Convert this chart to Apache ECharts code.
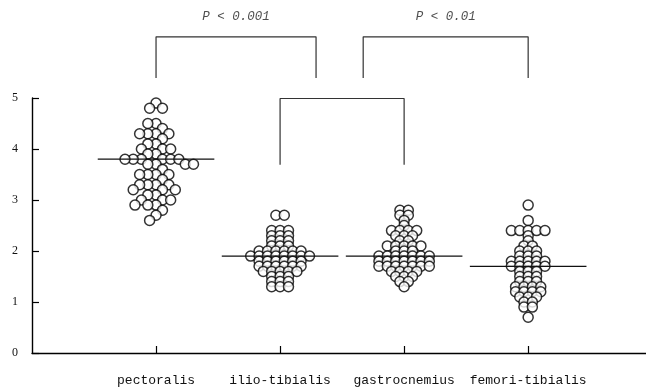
<!DOCTYPE html>
<html>
<head>
<meta charset="utf-8">
<title>Muscle dot plot</title>
<script src="https://cdn.jsdelivr.net/npm/echarts@6/dist/echarts.min.js"></script>
<style>
  html, body { margin: 0; padding: 0; background: #fff; }
  #chart { width: 646px; height: 389px; }
</style>
</head>
<body>
<div id="chart"></div>
<script>
var categories = ['pectoralis', 'ilio-tibialis', 'gastrocnemius', 'femori-tibialis'];
var yTicks = [0, 1, 2, 3, 4, 5];

// individual values, one entry per dot
var pectoralis = [4.9, 4.8, 4.8, 4.5, 4.5, 4.4, 4.3, 4.3, 4.3, 4.3, 4.2, 4.1, 4.1,
  4.0, 4.0, 4.0, 3.9, 3.9, 3.8, 3.8, 3.8, 3.8, 3.8, 3.8, 3.7, 3.7, 3.7, 3.7, 3.6,
  3.5, 3.5, 3.5, 3.5, 3.4, 3.3, 3.3, 3.3, 3.3, 3.2, 3.2, 3.2, 3.1, 3.1,
  3.0, 3.0, 3.0, 2.9, 2.9, 2.9, 2.8, 2.7, 2.6];
var ilioTibialis = [2.7, 2.7, 2.4, 2.4, 2.4, 2.3, 2.3, 2.3, 2.2, 2.2, 2.2, 2.1, 2.1, 2.1,
  2.0, 2.0, 2.0, 2.0, 2.0, 2.0, 1.9, 1.9, 1.9, 1.9, 1.9, 1.9, 1.9, 1.9,
  1.8, 1.8, 1.8, 1.8, 1.8, 1.8, 1.7, 1.7, 1.7, 1.7, 1.7, 1.7, 1.6, 1.6, 1.6, 1.6, 1.6,
  1.5, 1.5, 1.5, 1.4, 1.4, 1.4, 1.3, 1.3, 1.3];
var gastrocnemius = [2.8, 2.8, 2.7, 2.7, 2.6, 2.5, 2.4, 2.4, 2.4, 2.4, 2.3, 2.3, 2.3, 2.2, 2.2,
  2.1, 2.1, 2.1, 2.1, 2.1, 2.0, 2.0, 2.0, 1.9, 1.9, 1.9, 1.9, 1.9, 1.9, 1.9,
  1.8, 1.8, 1.8, 1.8, 1.8, 1.8, 1.8, 1.7, 1.7, 1.7, 1.7, 1.7, 1.7, 1.7,
  1.6, 1.6, 1.6, 1.6, 1.5, 1.5, 1.5, 1.4, 1.4, 1.3];
var femoriTibialis = [2.9, 2.6, 2.4, 2.4, 2.4, 2.4, 2.4, 2.3, 2.2, 2.1, 2.1, 2.0, 2.0, 2.0,
  1.9, 1.9, 1.9, 1.8, 1.8, 1.8, 1.8, 1.8, 1.7, 1.7, 1.7, 1.7, 1.7, 1.6, 1.6, 1.6,
  1.5, 1.5, 1.5, 1.4, 1.4, 1.4, 1.3, 1.3, 1.3, 1.3, 1.2, 1.2, 1.2, 1.2,
  1.1, 1.1, 1.1, 1.0, 1.0, 0.9, 0.9, 0.7];
var groups = [pectoralis, ilioTibialis, gastrocnemius, femoriTibialis];
var medians = [3.8, 1.9, 1.9, 1.7];

// comparison brackets: [from x, to x, top y, leg end y] in axis units
var bracketSpans = [[1, 2.29, 6.2, 5.39], [2.67, 4, 6.2, 5.39], [2, 3, 4.99, 3.69]];
var bracketTexts = ['P < 0.001', 'P < 0.01', ''];
var pTextY = 6.59;

var myChart = echarts.init(document.getElementById('chart'));

var baseOption = {
  animation: false,
  backgroundColor: '#fff',
  grid: { left: 32, right: 0, top: 98, bottom: 36, outerBoundsMode: 'none' },
  xAxis: {
    type: 'value', min: 0, max: 4.95,
    splitLine: { show: false },
    axisLine: { lineStyle: { color: '#000', width: 1.4 } },
    axisTick: { inside: true, length: 7, customValues: [1, 2, 3, 4], lineStyle: { color: '#000', width: 1.2 } },
    axisLabel: {
      customValues: [1, 2, 3, 4], margin: 21,
      fontFamily: 'Liberation Mono', fontSize: 13, color: '#111',
      formatter: function (v) { return categories[Math.round(v) - 1] || ''; }
    }
  },
  yAxis: {
    type: 'value', min: 0, max: 5, interval: 1,
    splitLine: { show: false },
    axisLine: { lineStyle: { color: '#000', width: 1.4 } },
    axisTick: { inside: true, length: 7, lineStyle: { color: '#000', width: 1.2 } },
    axisLabel: { margin: 14, fontFamily: 'Liberation Serif', fontSize: 12, color: '#111',
      formatter: function (v) { return yTicks.indexOf(v) >= 0 ? String(v) : ''; } }
  },
  series: []
};
myChart.setOption(baseOption);

// pixels per axis unit, from the chart's own scales
var p0 = myChart.convertToPixel({ gridIndex: 0 }, [0, 0]);
var p1 = myChart.convertToPixel({ gridIndex: 0 }, [1, 1]);
var px = { x: p1[0] - p0[0], y: p0[1] - p1[1] };

// dots of one value side by side, centred
function rowLayout(vals, step) {
  var count = {}, seen = {};
  vals.forEach(function (v) { count[v] = (count[v] || 0) + 1; });
  return vals.map(function (v) {
    var i = seen[v] || 0; seen[v] = i + 1;
    return [(i - (count[v] - 1) / 2) * step / px.x, v];
  });
}

// simple beeswarm: nearest free spot to the centre
function swarmLayout(vals, d) {
  var placed = [];
  return vals.map(function (v) {
    var y = v * px.y, blocks = [];
    placed.forEach(function (p) {
      var dy = Math.abs(p[1] - y);
      if (dy < d) { var w = Math.sqrt(d * d - dy * dy); blocks.push([p[0] - w, p[0] + w]); }
    });
    var cands = [0];
    blocks.forEach(function (b) { cands.push(b[0], b[1]); });
    cands.sort(function (a, b) { return Math.abs(a) - Math.abs(b) || a - b; });
    var x = cands.find(function (c) {
      return blocks.every(function (b) { return c <= b[0] + 1e-6 || c >= b[1] - 1e-6; });
    });
    placed.push([x, y]);
    return [x / px.x, v];
  });
}

var series = [];

groups.forEach(function (vals, gi) {
  var pts = gi === 0 ? swarmLayout(vals, 8.2) : rowLayout(vals, 8.4);
  series.push({
    type: 'scatter',
    symbol: 'circle', symbolSize: 10,
    itemStyle: { color: '#fff', borderColor: '#000', borderWidth: 1.5 },
    data: pts.map(function (p) { return [gi + 1 + p[0], p[1]]; }),
    z: 3
  });
});

medians.forEach(function (m, gi) {
  series.push({
    type: 'line', showSymbol: false, silent: true, z: 4,
    lineStyle: { color: '#111', width: 1.3 },
    data: [[gi + 1 - 0.47, m], [gi + 1 + 0.47, m]]
  });
});

bracketSpans.forEach(function (b) {
  series.push({
    type: 'line', showSymbol: false, silent: true, clip: false,
    lineStyle: { color: '#333', width: 1.2 },
    data: [[b[0], b[3]], [b[0], b[2]], [b[1], b[2]], [b[1], b[3]]]
  });
});

series.push({
  type: 'scatter', symbolSize: 0, clip: false, silent: true,
  label: {
    show: true, position: 'inside',
    fontFamily: 'Liberation Mono', fontStyle: 'italic', fontSize: 12.5, color: '#222',
    formatter: function (p) { return p.data[2]; }
  },
  data: bracketSpans.map(function (b, i) { return [(b[0] + b[1]) / 2, pTextY, bracketTexts[i]]; })
    .filter(function (d) { return d[2]; })
});

myChart.setOption({ series: series });
</script>
</body>
</html>
